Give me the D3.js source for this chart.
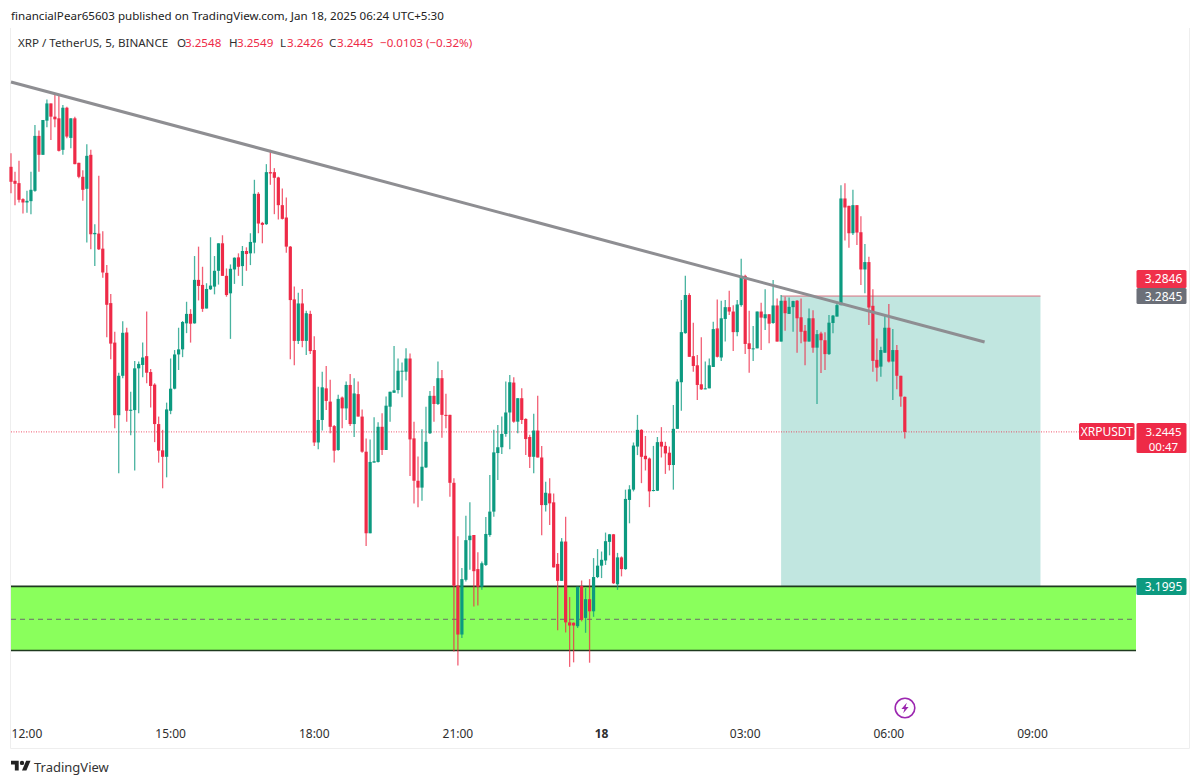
<!DOCTYPE html>
<html>
<head>
<meta charset="utf-8">
<script src="https://d3js.org/d3.v7.min.js"></script>
<style>
html, body { margin: 0; padding: 0; background: #fff; }
svg { display: block; }
text { font-family: "Noto Sans", sans-serif; }
</style>
</head>
<body>
<svg id="chart" width="1200" height="784"></svg>
<script>
// 5 minute candles, index 0 = 11:40
var opens = [
3.3232,3.3190,3.3183,3.3135,3.3125,3.3129,3.3160,3.3325,3.3268,3.3371,
3.3423,3.3383,3.3378,3.3283,3.3410,3.3319,3.3378,3.3244,3.3202,3.3166,
3.3268,3.3030,3.3032,3.2987,3.2915,3.2825,3.2708,3.2494,3.2610,3.2738,
3.2507,3.2509,3.2632,3.2642,3.2668,3.2621,3.2584,3.2468,3.2391,3.2372,
3.2507,3.2572,3.2673,3.2688,3.2765,3.2793,3.2765,3.2894,3.2879,3.2809,
3.2866,3.2874,3.2921,3.3003,3.2906,3.2854,3.2925,3.2961,3.2935,3.2980,
3.2973,3.3005,3.3151,3.3064,3.3060,3.3216,3.3216,3.3200,3.3117,3.3080,
3.2993,3.2836,3.2713,3.2824,3.2713,3.2793,3.2686,3.2414,3.2480,3.2573,
3.2534,3.2462,3.2392,3.2546,3.2514,3.2583,3.2468,3.2556,3.2490,3.2387,
3.2149,3.2355,3.2357,3.2460,3.2392,3.2519,3.2560,3.2568,3.2622,3.2622,
3.2661,3.2426,3.2302,3.2282,3.2341,3.2441,3.2551,3.2527,3.2603,3.2495,
3.2495,3.2296,3.1997,3.1856,3.2014,3.2129,3.2144,3.2045,3.1994,3.2057,
3.2144,3.2212,3.2383,3.2400,3.2439,3.2502,3.2590,3.2475,3.2544,3.2483,
3.2430,3.2372,3.2449,3.2370,3.2231,3.2265,3.2239,3.2060,3.2011,3.2125,
3.1891,3.1890,3.1880,3.1996,3.1904,3.1958,3.1923,3.2022,3.2055,3.2070,
3.2124,3.2146,3.2001,3.2079,3.2045,3.2246,3.2276,3.2402,3.2451,3.2375,
3.2367,3.2272,3.2273,3.2416,3.2404,3.2384,3.2348,3.2454,3.2591,3.2736,
3.2849,3.2668,3.2641,3.2585,3.2570,3.2573,3.2636,3.2750,3.2664,3.2778,
3.2813,3.2800,3.2739,3.2819,3.2906,3.2706,3.2689,3.2691,3.2800,3.2780,
3.2792,3.2766,3.2818,3.2711,3.2832,3.2793,3.2813,3.2832,3.2783,3.2743,
3.2711,3.2780,3.2693,3.2735,3.2715,3.2674,3.2766,3.2785,3.2819,3.3137,
3.3115,3.3033,3.3117,3.3036,3.2925,3.2947,3.2817,3.2657,3.2637,3.2678,
3.2752,3.2652,3.2686,3.2610,3.2548];
var highs = [
3.3273,3.3217,3.3250,3.3138,3.3160,3.3217,3.3358,3.3341,3.3373,3.3435,
3.3423,3.3453,3.3448,3.3418,3.3413,3.3378,3.3383,3.3244,3.3222,3.3300,
3.3283,3.3060,3.3205,3.3039,3.2938,3.2852,3.2740,3.2619,3.2771,3.2752,
3.2563,3.2654,3.2652,3.2708,3.2800,3.2630,3.2588,3.2490,3.2451,3.2531,
3.2661,3.2686,3.2752,3.2772,3.2829,3.2807,3.2965,3.2993,3.2933,3.2884,
3.3021,3.2965,3.3003,3.3027,3.2928,3.2940,3.2961,3.2973,3.2995,3.2991,
3.3033,3.3193,3.3156,3.3067,3.3240,3.3283,3.3228,3.3202,3.3167,3.3140,
3.2995,3.2874,3.2856,3.2867,3.2802,3.2802,3.2727,3.2578,3.2622,3.2639,
3.2598,3.2465,3.2554,3.2549,3.2593,3.2615,3.2603,3.2593,3.2511,3.2426,
3.2423,3.2488,3.2473,3.2500,3.2549,3.2563,3.2698,3.2661,3.2649,3.2691,
3.2676,3.2475,3.2373,3.2453,3.2519,3.2565,3.2580,3.2652,3.2627,3.2557,
3.2495,3.2309,3.2140,3.2048,3.2200,3.2239,3.2144,3.2094,3.2067,3.2196,
3.2319,3.2451,3.2465,3.2490,3.2593,3.2612,3.2606,3.2544,3.2573,3.2485,
3.2437,3.2498,3.2551,3.2404,3.2299,3.2309,3.2265,3.2092,3.2135,3.2197,
3.1964,3.1891,3.1994,3.2012,3.1990,3.2016,3.2077,3.2103,3.2096,3.2151,
3.2147,3.2147,3.2092,3.2082,3.2276,3.2289,3.2414,3.2495,3.2453,3.2433,
3.2370,3.2404,3.2430,3.2459,3.2416,3.2402,3.2524,3.2600,3.2834,3.2906,
3.2854,3.2767,3.2671,3.2724,3.2652,3.2661,3.2770,3.2836,3.2832,3.2834,
3.2862,3.2819,3.2834,3.2957,3.2909,3.2802,3.2757,3.2800,3.2826,3.2866,
3.2792,3.2894,3.2839,3.2849,3.2844,3.2842,3.2832,3.2834,3.2839,3.2760,
3.2809,3.2804,3.2745,3.2740,3.2739,3.2790,3.2790,3.2829,3.3177,3.3183,
3.3115,3.3163,3.3117,3.3084,3.3001,3.2963,3.2866,3.2720,3.2696,3.2787,
3.2822,3.2748,3.2701,3.2610,3.2549];
var lows = [
3.3153,3.3117,3.3125,3.3092,3.3094,3.3090,3.3157,3.3217,3.3268,3.3351,
3.3313,3.3351,3.3278,3.3268,3.3318,3.3288,3.3240,3.3198,3.3130,3.3005,
3.2985,3.2935,3.2983,3.2900,3.2724,3.2659,3.2456,3.2324,3.2603,3.2475,
3.2435,3.2332,3.2500,3.2606,3.2588,3.2517,3.2415,3.2355,3.2280,3.2312,
3.2497,3.2570,3.2627,3.2665,3.2736,3.2708,3.2764,3.2833,3.2799,3.2809,
3.2864,3.2851,3.2880,3.2906,3.2844,3.2719,3.2882,3.2906,3.2876,3.2921,
3.2938,3.2973,3.3033,3.3003,3.3058,3.3178,3.3090,3.3074,3.3074,3.2975,
3.2659,3.2641,3.2704,3.2694,3.2671,3.2674,3.2404,3.2394,3.2449,3.2509,
3.2441,3.2355,3.2390,3.2456,3.2480,3.2462,3.2430,3.2490,3.2384,3.2112,
3.2149,3.2355,3.2355,3.2377,3.2392,3.2475,3.2560,3.2558,3.2547,3.2596,
3.2316,3.2236,3.2225,3.2244,3.2339,3.2439,3.2475,3.2524,3.2428,3.2456,
3.2255,3.1807,3.1767,3.1846,3.2009,3.2043,3.1937,3.1940,3.1985,3.2054,
3.2139,3.2197,3.2304,3.2380,3.2431,3.2394,3.2472,3.2441,3.2468,3.2377,
3.2339,3.2324,3.2370,3.2143,3.2212,3.2173,3.2050,3.1868,3.2011,3.1862,
3.1763,3.1776,3.1875,3.1894,3.1861,3.1775,3.1907,3.2019,3.2019,3.2057,
3.2085,3.2002,3.1985,3.2024,3.2043,3.2178,3.2271,3.2377,3.2295,3.2332,
3.2225,3.2271,3.2272,3.2370,3.2322,3.2332,3.2276,3.2454,3.2507,3.2734,
3.2666,3.2622,3.2539,3.2568,3.2570,3.2573,3.2636,3.2664,3.2654,3.2711,
3.2790,3.2683,3.2727,3.2814,3.2674,3.2619,3.2654,3.2691,3.2686,3.2745,
3.2706,3.2764,3.2711,3.2711,3.2743,3.2793,3.2740,3.2678,3.2706,3.2641,
3.2711,3.2678,3.2527,3.2618,3.2627,3.2671,3.2736,3.2785,3.2819,3.3011,
3.2990,3.3028,3.2998,3.2879,3.2854,3.2760,3.2622,3.2593,3.2607,3.2678,
3.2649,3.2539,3.2570,3.2519,3.2426];
var closes = [
3.3187,3.3181,3.3133,3.3125,3.3130,3.3163,3.3325,3.3268,3.3373,3.3423,
3.3383,3.3375,3.3280,3.3410,3.3323,3.3378,3.3240,3.3202,3.3163,3.3265,
3.3030,3.3034,3.2985,3.2916,3.2820,3.2705,3.2494,3.2610,3.2737,3.2507,
3.2510,3.2632,3.2645,3.2664,3.2619,3.2580,3.2468,3.2390,3.2372,3.2511,
3.2572,3.2673,3.2688,3.2769,3.2793,3.2764,3.2894,3.2876,3.2808,3.2867,
3.2877,3.2921,3.3003,3.2906,3.2849,3.2927,3.2960,3.2933,3.2980,3.2971,
3.3007,3.3151,3.3062,3.3058,3.3216,3.3212,3.3199,3.3117,3.3076,3.2993,
3.2834,3.2713,3.2824,3.2713,3.2795,3.2683,3.2414,3.2480,3.2576,3.2536,
3.2460,3.2390,3.2542,3.2514,3.2583,3.2468,3.2558,3.2490,3.2387,3.2149,
3.2357,3.2359,3.2460,3.2392,3.2522,3.2563,3.2567,3.2625,3.2625,3.2661,
3.2423,3.2302,3.2282,3.2343,3.2416,3.2551,3.2527,3.2603,3.2495,3.2492,
3.2296,3.1997,3.1856,3.2016,3.2129,3.2142,3.2039,3.1994,3.2062,3.2147,
3.2212,3.2385,3.2400,3.2439,3.2502,3.2591,3.2475,3.2544,3.2480,3.2424,
3.2372,3.2449,3.2370,3.2231,3.2267,3.2236,3.2050,3.2011,3.2125,3.1891,
3.1882,3.1882,3.1994,3.1899,3.1958,3.1923,3.2022,3.2055,3.2072,3.2126,
3.2146,3.2004,3.2079,3.2045,3.2249,3.2277,3.2405,3.2451,3.2372,3.2365,
3.2271,3.2275,3.2415,3.2402,3.2382,3.2348,3.2454,3.2593,3.2739,3.2849,
3.2666,3.2639,3.2583,3.2570,3.2573,3.2641,3.2748,3.2666,3.2780,3.2813,
3.2800,3.2739,3.2821,3.2906,3.2704,3.2689,3.2691,3.2800,3.2782,3.2792,
3.2764,3.2818,3.2711,3.2832,3.2795,3.2814,3.2831,3.2780,3.2740,3.2711,
3.2780,3.2693,3.2733,3.2715,3.2674,3.2767,3.2788,3.2819,3.3137,3.3110,
3.3033,3.3117,3.3035,3.2925,3.2947,3.2812,3.2654,3.2634,3.2686,3.2752,
3.2652,3.2686,3.2610,3.2549,3.2445];

var priceTicks = [3.36,3.35,3.34,3.33,3.32,3.31,3.30,3.28,3.27,3.26,3.25,3.23,3.22,3.21,3.19,3.18,3.171,3.162];
var timeTickIdx = [4,40,76,112,148,184,220,256];
var timeTickLabels = ["12:00","15:00","18:00","21:00","18","03:00","06:00","09:00"];

// drawings on the chart
var zonePrices = [3.1995, 3.19, 3.181];
var profitZoneIdx = [193, 258];
var profitZonePrices = [3.2846, 3.1995];
var trendIdx = [0, 244];
var trendPrices = [3.3488, 3.2710];
var lastPrice = 3.2445;

var RED = "#ee2a47", GREEN = "#0c9a80";

var svg = d3.select("#chart");
var x = d3.scaleLinear().domain([0, 224]).range([11, 904.8]);
var y = d3.scaleLog().domain([3.36, 3.18]).range([45, 654]);

// pane frame
svg.append("path")
.attr("d", "M10.5,28V748.5H1189.5V28")
.attr("fill", "none")
.attr("stroke", "#eeeeee");

// green demand zone
svg.append("rect")
.attr("x", 11)
.attr("width", 1125)
.attr("y", y(zonePrices[0]))
.attr("height", y(zonePrices[2]) - y(zonePrices[0]))
.attr("fill", "#8aff5c");

// long position target box
svg.append("rect")
.attr("x", x(profitZoneIdx[0]))
.attr("width", x(profitZoneIdx[1]) - x(profitZoneIdx[0]))
.attr("y", y(profitZonePrices[0]))
.attr("height", y(profitZonePrices[1]) - y(profitZonePrices[0]))
.attr("fill", "#c1e6e0");
svg.append("line")
.attr("x1", x(profitZoneIdx[0]))
.attr("x2", x(profitZoneIdx[1]))
.attr("y1", y(profitZonePrices[0]))
.attr("y2", y(profitZonePrices[0]))
.attr("stroke", "#d8707e")
.attr("stroke-width", 1);

// zone edges
[0, 2].forEach(function(k) {
	svg.append("line")
	.attr("x1", 11).attr("x2", 1136)
	.attr("y1", y(zonePrices[k])).attr("y2", y(zonePrices[k]))
	.attr("stroke", "#1e3a1e")
	.attr("stroke-width", 1.6);
});
svg.append("line")
.attr("x1", 11).attr("x2", 1136)
.attr("y1", y(zonePrices[1])).attr("y2", y(zonePrices[1]))
.attr("stroke", "#6b6b6b")
.attr("stroke-dasharray", "5 4");

// last price line
svg.append("line")
.attr("x1", 11).attr("x2", 1136)
.attr("y1", y(lastPrice)).attr("y2", y(lastPrice))
.attr("stroke", RED)
.attr("stroke-opacity", 0.8)
.attr("stroke-dasharray", "1 1.5");

// candles
var candles = svg.selectAll("g.candle")
.data(opens)
.enter().append("g")
.attr("class", "candle")
.attr("transform", function(d, i) { return "translate(" + x(i) + ",0)"; });

candles.append("line")
.attr("y1", function(d, i) { return y(highs[i]); })
.attr("y2", function(d, i) { return y(lows[i]); })
.attr("stroke", function(d, i) { return closes[i] >= opens[i] ? GREEN : RED; })
.attr("stroke-opacity", 0.75)
.attr("stroke-width", 1.3);

candles.append("rect")
.attr("x", -1.6)
.attr("width", 3.2)
.attr("y", function(d, i) { return y(Math.max(opens[i], closes[i])); })
.attr("height", function(d, i) { return Math.max(1, Math.abs(y(opens[i]) - y(closes[i]))); })
.attr("fill", function(d, i) { return closes[i] >= opens[i] ? GREEN : RED; });

// trend line
svg.append("line")
.attr("x1", x(trendIdx[0])).attr("y1", y(trendPrices[0]))
.attr("x2", x(trendIdx[1])).attr("y2", y(trendPrices[1]))
.attr("stroke", "#8e8e92")
.attr("stroke-width", 3);

// axes
svg.append("clipPath").attr("id", "axisClip")
.append("rect").attr("x", 1137).attr("y", 28).attr("width", 52).attr("height", 691);

var yAxis = svg.append("g")
.attr("clip-path", "url(#axisClip)")
.attr("transform", "translate(1137,0)")
.call(d3.axisRight(y).tickValues(priceTicks).tickFormat(d3.format(".4f")).tickSize(0).tickPadding(8));
yAxis.select(".domain").remove();
yAxis.selectAll("text")
.attr("font-size", 12)
.attr("fill", "#3a3a3a")
.style("font-family", '"Noto Sans", sans-serif');

var xAxis = svg.append("g")
.attr("transform", "translate(-0.5,729)")
.call(d3.axisBottom(x).tickValues(timeTickIdx).tickFormat(function(d, i) { return timeTickLabels[i]; }).tickSize(0).tickPadding(0));
xAxis.select(".domain").remove();
xAxis.selectAll("text")
.attr("font-size", 12)
.attr("fill", "#2e2e2e")
.style("font-family", '"Noto Sans", sans-serif')
.style("font-weight", function(d, i) { return timeTickLabels[i] === "18" ? "bold" : "normal"; });

// price tags on the axis
function tag(text, top, h, fill, left, w, size) {
	svg.append("rect")
	.attr("x", left).attr("y", top)
	.attr("width", w).attr("height", h)
	.attr("rx", 1.5)
	.attr("fill", fill);
	svg.append("text")
	.attr("x", left + w / 2 + (w > 50 ? 0 : 2))
	.attr("y", top + 13)
	.attr("text-anchor", "middle")
	.attr("font-size", size || 12)
	.attr("fill", "#fff")
	.text(text);
}
tag("3.2846", 270, 18, "#f0304a", 1136.5, 50);
tag("3.2845", 288, 16, "#6b6f78", 1136.5, 50);
tag("3.1995", 578, 17, "#0c9a80", 1136.5, 50);
tag("XRPUSDT", 423, 17, RED, 1079, 55.5);
tag("3.2445", 423, 30, RED, 1136.5, 50, 11.5);
svg.append("text")
.attr("x", 1163.5).attr("y", 451)
.attr("text-anchor", "middle")
.attr("font-size", 11.5)
.attr("fill", "#fff")
.text("00:47");

// header
svg.append("text")
.attr("x", 11).attr("y", 20)
.attr("font-size", 11.6)
.attr("fill", "#222")
.text("financialPear65603 published on TradingView.com, Jan 18, 2025 06:24 UTC+5:30");

var legend = [
	["XRP / TetherUS, 5, BINANCE", 18, "#2e2e2e"],
	["O", 177, "#2e2e2e"], ["3.2548", 185, RED],
	["H", 229, "#2e2e2e"], ["3.2549", 237, RED],
	["L", 280, "#2e2e2e"], ["3.2426", 287, RED],
	["C", 329, "#2e2e2e"], ["3.2445", 337, RED],
	["\u22120.0103 (\u22120.32%)", 380, RED]
];
svg.selectAll("text.legend")
.data(legend)
.enter().append("text")
.attr("class", "legend")
.attr("x", function(d) { return d[1]; })
.attr("y", 47)
.attr("font-size", 11.6)
.attr("fill", function(d) { return d[2]; })
.text(function(d) { return d[0]; });

// earnings marker
var mark = svg.append("g").attr("transform", "translate(905,708)");
mark.append("circle").attr("r", 9.8).attr("fill", "#fff").attr("stroke", "#9c27b0").attr("stroke-width", 1.6);
mark.append("path").attr("d", "M1.8,-5.2L-3.6,1H-0.6L-1.8,5.2L3.6,-1H0.6Z").attr("fill", "#9c27b0");

// footer logo
var logo = svg.append("g").attr("transform", "translate(11,758.5) scale(0.55)");
logo.append("path").attr("d", "M14 22H7V11H0V4h14v18zM28 22h-8l7.5-18h8L28 22z").attr("fill", "#222");
logo.append("circle").attr("cx", 20).attr("cy", 8).attr("r", 4).attr("fill", "#222");
svg.append("text")
.attr("x", 34).attr("y", 772)
.attr("font-size", 13)
.attr("fill", "#333")
.text("TradingView");
</script>
</body>
</html>
